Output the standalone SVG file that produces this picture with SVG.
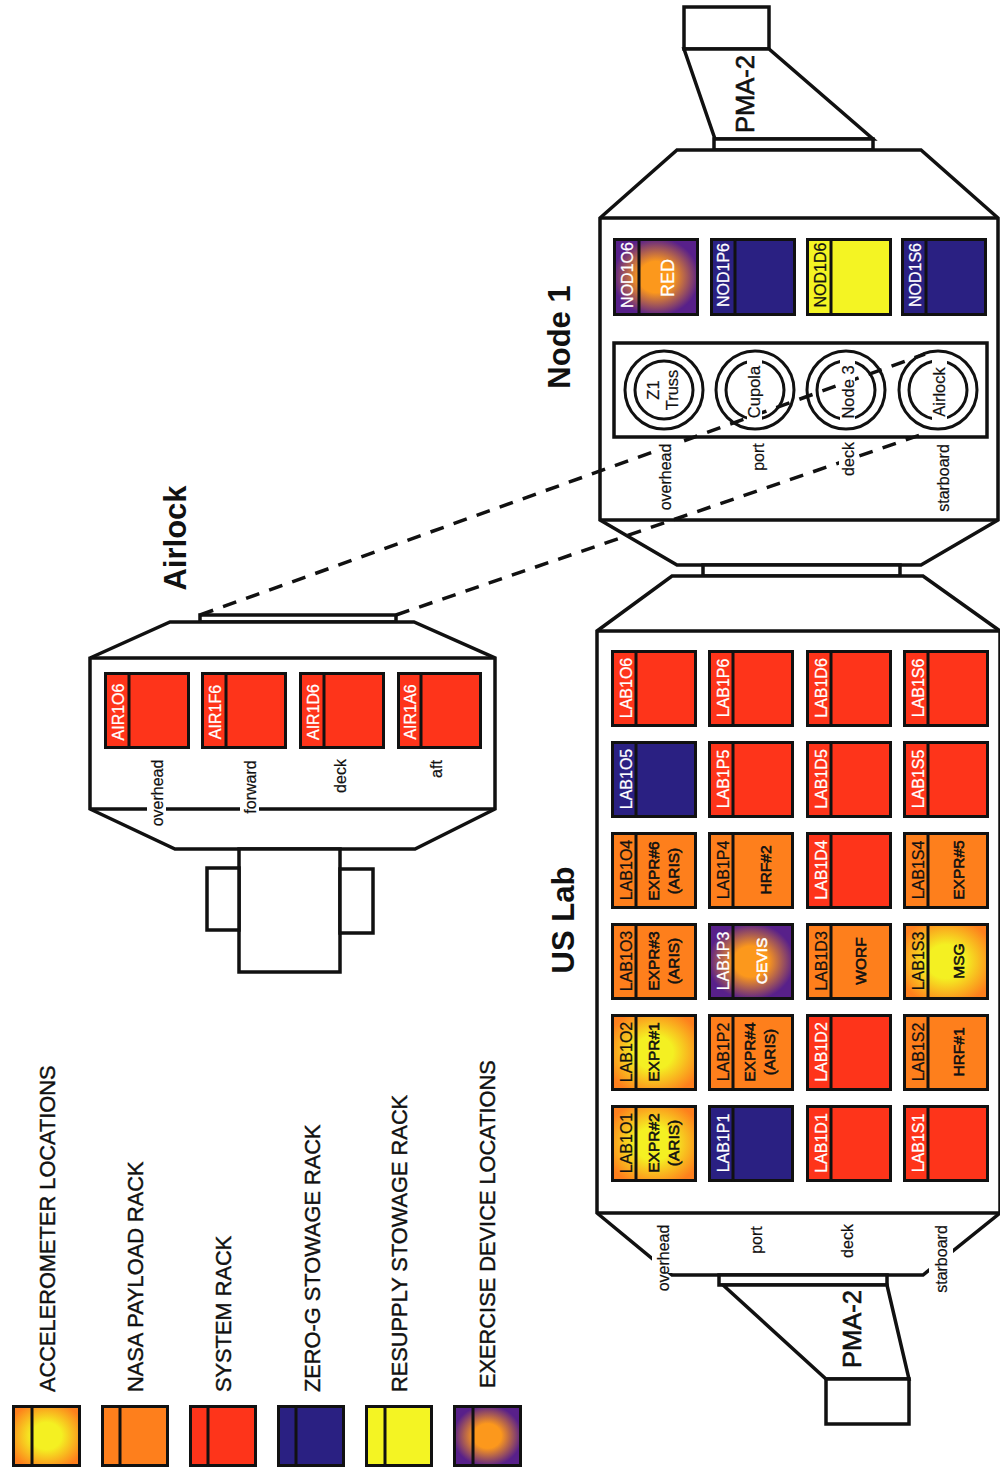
<svg xmlns="http://www.w3.org/2000/svg" width="1000" height="1468" viewBox="0 0 1000 1468">
<style>
text{font-family:"Liberation Sans",Arial,sans-serif;text-anchor:middle;dominant-baseline:central;fill:#111}
.o{fill:#fff;stroke:#111;stroke-width:3.5}
.l{fill:none;stroke:#111;stroke-width:3.5}
.d{fill:none;stroke:#111;stroke-width:3.5;stroke-dasharray:14 10.5}
.w{fill:#fff;stroke:none}
.c{fill:none;stroke:#111;stroke-width:3}
.s{font-size:16px;stroke:#111;stroke-width:.25}
.s.n{stroke:#fff}
.n{fill:#fff}
.b{font-size:15.5px;stroke:#111;stroke-width:.6}
.b.n{stroke:#fff}
.p{font-size:16px;stroke:#111;stroke-width:.2}
.u{font-size:16.5px;stroke:#111;stroke-width:.2}
.h{font-size:31px;font-weight:bold}
.m{font-size:25.5px;stroke:#111;stroke-width:.6}
.g{font-size:21.8px;text-anchor:start;stroke:#111;stroke-width:.4}
rect.r{stroke:#111;stroke-width:3}
.v{stroke:#111;stroke-width:3;fill:none}
.red{fill:#fe341a}.org{fill:#fe7f1c}.blu{fill:#2a2082}.yel{fill:#f4f423}.acc{fill:url(#acc)}.exd{fill:url(#exd)}
</style>
<defs>
<radialGradient id="acc" r="0.6"><stop offset="0.38" stop-color="#f4f022"/><stop offset="1" stop-color="#fe7f1c"/></radialGradient>
<radialGradient id="exd" r="0.52"><stop offset="0.4" stop-color="#fc981c"/><stop offset="1" stop-color="#58208a"/></radialGradient>
</defs>
<rect width="1000" height="1468" fill="#fff"/>
<g id="node1-shell">
<rect class="o" x="684" y="7" width="85" height="42"/>
<path class="o" d="M684 49L715 139H873L769 49Z"/>
<rect class="o" x="714" y="139" width="159" height="11"/>
<path class="o" d="M600 218L677 150H921L998 218V520L921 565H677L600 520Z"/>
<path class="l" d="M600 218H998M600 520H998"/>
<rect class="o" x="703" y="565" width="197" height="11"/>
<text class="m" transform="translate(745 94) rotate(-90)">PMA-2</text>
<text class="h" transform="translate(559 337) rotate(-90)">Node 1</text>
<rect class="o" x="614" y="343" width="373" height="94"/>
</g>
<g id="lab-shell">
<path class="o" d="M597 631L672 576H923L1000 631V1213L923 1275H672L597 1213Z"/>
<path class="l" d="M597 631H1000M597 1213H1000"/>
<rect class="o" x="719" y="1275" width="168" height="10"/>
<path class="o" d="M723 1285L826 1379H909L887 1285Z"/>
<rect class="o" x="826" y="1379" width="83" height="45"/>
<text class="m" transform="translate(852 1329) rotate(-90)">PMA-2</text>
<text class="h" transform="translate(563 920) rotate(-90)">US Lab</text>
<rect class="w" x="652" y="1240" width="23" height="33"/>
<rect class="w" x="929" y="1240" width="24" height="33"/>
<text class="p" transform="translate(663 1258) rotate(-90)">overhead</text>
<text class="p" transform="translate(756 1240) rotate(-90)">port</text>
<text class="p" transform="translate(847 1241) rotate(-90)">deck</text>
<text class="p" transform="translate(941 1259) rotate(-90)">starboard</text>
</g>
<g id="airlock-shell">
<path class="o" d="M200 622V615H396V622Z"/>
<path class="o" d="M90 658L170 622H414L495 658V809L415 849H175L90 809Z"/>
<path class="l" d="M90 658H495M90 809H495"/>
<rect class="o" x="239" y="849" width="101" height="123"/>
<rect class="o" x="207" y="868" width="32" height="62"/>
<rect class="o" x="340" y="869" width="33" height="64"/>
<text class="h" transform="translate(175 538) rotate(-90)">Airlock</text>
<rect class="w" x="147" y="800" width="19" height="18"/>
<rect class="w" x="240" y="800" width="19" height="18"/>
<text class="p" transform="translate(157 793) rotate(-90)">overhead</text>
<text class="p" transform="translate(250 787) rotate(-90)">forward</text>
<text class="p" transform="translate(340 776) rotate(-90)">deck</text>
<text class="p" transform="translate(436 769) rotate(-90)">aft</text>
</g>
<g id="connectors">
<path class="d" d="M200 615L925 354"/>
<path class="d" d="M396 615L923 434"/>
</g>
<g id="node1-labels">
<rect class="w" x="656" y="442" width="19" height="70"/>
<rect class="w" x="839" y="442" width="19" height="36"/>
<text class="p" transform="translate(665 477) rotate(-90)">overhead</text>
<text class="p" transform="translate(758 457) rotate(-90)">port</text>
<text class="p" transform="translate(848 459) rotate(-90)">deck</text>
<text class="p" transform="translate(943 478) rotate(-90)">starboard</text>
</g>
<g id="ports">
<g id="port-z1"><circle class="c" cx="664" cy="390" r="39"/><circle class="c" cx="664" cy="390" r="29"/><text class="u" transform="translate(653 390) rotate(-90)">Z1</text><text class="u" transform="translate(672 390) rotate(-90)">Truss</text></g>
<g id="port-cupola"><circle class="c" cx="755" cy="390" r="39"/><circle class="c" cx="755" cy="390" r="29"/><rect class="w" x="747" y="358" width="15" height="66"/><text class="u" transform="translate(754 392) rotate(-90)">Cupola</text></g>
<g id="port-node3"><circle class="c" cx="846" cy="390" r="39"/><circle class="c" cx="846" cy="390" r="29"/><rect class="w" x="840" y="358" width="15" height="66"/><text class="u" transform="translate(848 392) rotate(-90)">Node 3</text></g>
<g id="port-airlock"><circle class="c" cx="938" cy="390" r="39"/><circle class="c" cx="938" cy="390" r="29"/><rect class="w" x="932" y="358" width="15" height="66"/><text class="u" transform="translate(939 392) rotate(-90)">Airlock</text></g>
</g>
<g id="NOD1O6"><rect class="r exd" x="614.5" y="239.5" width="83" height="75"/><path class="v" d="M639 238V316"/><text class="s n" transform="translate(627 275) rotate(-90)">NOD1O6</text><text class="s n" style="font-size:18px" transform="translate(668 278) rotate(-90)">RED</text></g>
<g id="NOD1P6"><rect class="r blu" x="711.5" y="239.5" width="83" height="75"/><path class="v" d="M735 238V316"/><text class="s n" transform="translate(723 275) rotate(-90)">NOD1P6</text></g>
<g id="NOD1D6"><rect class="r yel" x="807.5" y="239.5" width="83" height="75"/><path class="v" d="M831 238V316"/><text class="s" transform="translate(820 275) rotate(-90)">NOD1D6</text></g>
<g id="NOD1S6"><rect class="r blu" x="902.5" y="239.5" width="83" height="75"/><path class="v" d="M926 238V316"/><text class="s n" transform="translate(915 275) rotate(-90)">NOD1S6</text></g>

<g id="LAB1O6"><rect class="r red" x="612.5" y="651.5" width="83" height="74"/><path class="v" d="M636 650V727"/><text class="s n" transform="translate(626 688) rotate(-90)">LAB1O6</text></g>
<g id="LAB1P6"><rect class="r red" x="709.5" y="651.5" width="83" height="74"/><path class="v" d="M733 650V727"/><text class="s n" transform="translate(723 688) rotate(-90)">LAB1P6</text></g>
<g id="LAB1D6"><rect class="r red" x="807.5" y="651.5" width="83" height="74"/><path class="v" d="M831 650V727"/><text class="s n" transform="translate(821 688) rotate(-90)">LAB1D6</text></g>
<g id="LAB1S6"><rect class="r red" x="904.5" y="651.5" width="83" height="74"/><path class="v" d="M928 650V727"/><text class="s n" transform="translate(918 688) rotate(-90)">LAB1S6</text></g>

<g id="LAB1O5"><rect class="r blu" x="612.5" y="742.5" width="83" height="74"/><path class="v" d="M636 741V818"/><text class="s n" transform="translate(626 779) rotate(-90)">LAB1O5</text></g>
<g id="LAB1P5"><rect class="r red" x="709.5" y="742.5" width="83" height="74"/><path class="v" d="M733 741V818"/><text class="s n" transform="translate(723 779) rotate(-90)">LAB1P5</text></g>
<g id="LAB1D5"><rect class="r red" x="807.5" y="742.5" width="83" height="74"/><path class="v" d="M831 741V818"/><text class="s n" transform="translate(821 779) rotate(-90)">LAB1D5</text></g>
<g id="LAB1S5"><rect class="r red" x="904.5" y="742.5" width="83" height="74"/><path class="v" d="M928 741V818"/><text class="s n" transform="translate(918 779) rotate(-90)">LAB1S5</text></g>

<g id="LAB1O4"><rect class="r org" x="612.5" y="833.5" width="83" height="74"/><path class="v" d="M636 832V909"/><text class="s" transform="translate(626 870) rotate(-90)">LAB1O4</text><text class="b" transform="translate(653 871) rotate(-90)">EXPR#6</text><text class="b" transform="translate(673 871) rotate(-90)">(ARIS)</text></g>
<g id="LAB1P4"><rect class="r org" x="709.5" y="833.5" width="83" height="74"/><path class="v" d="M733 832V909"/><text class="s" transform="translate(723 870) rotate(-90)">LAB1P4</text><text class="b" transform="translate(765 870) rotate(-90)">HRF#2</text></g>
<g id="LAB1D4"><rect class="r red" x="807.5" y="833.5" width="83" height="74"/><path class="v" d="M831 832V909"/><text class="s n" transform="translate(821 870) rotate(-90)">LAB1D4</text></g>
<g id="LAB1S4"><rect class="r org" x="904.5" y="833.5" width="83" height="74"/><path class="v" d="M928 832V909"/><text class="s" transform="translate(918 870) rotate(-90)">LAB1S4</text><text class="b" transform="translate(958 870) rotate(-90)">EXPR#5</text></g>

<g id="LAB1O3"><rect class="r org" x="612.5" y="924.5" width="83" height="74"/><path class="v" d="M636 923V1000"/><text class="s" transform="translate(626 961) rotate(-90)">LAB1O3</text><text class="b" transform="translate(653 961) rotate(-90)">EXPR#3</text><text class="b" transform="translate(673 961) rotate(-90)">(ARIS)</text></g>
<g id="LAB1P3"><rect class="r exd" x="709.5" y="924.5" width="83" height="74"/><path class="v" d="M733 923V1000"/><text class="s n" transform="translate(723 961) rotate(-90)">LAB1P3</text><text class="b n" transform="translate(761 961) rotate(-90)">CEVIS</text></g>
<g id="LAB1D3"><rect class="r org" x="807.5" y="924.5" width="83" height="74"/><path class="v" d="M831 923V1000"/><text class="s" transform="translate(821 961) rotate(-90)">LAB1D3</text><text class="b" transform="translate(860 961) rotate(-90)">WORF</text></g>
<g id="LAB1S3"><rect class="r acc" x="904.5" y="924.5" width="83" height="74"/><path class="v" d="M928 923V1000"/><text class="s" transform="translate(918 961) rotate(-90)">LAB1S3</text><text class="b" transform="translate(958 961) rotate(-90)">MSG</text></g>

<g id="LAB1O2"><rect class="r acc" x="612.5" y="1015.5" width="83" height="74"/><path class="v" d="M636 1014V1091"/><text class="s" transform="translate(626 1052) rotate(-90)">LAB1O2</text><text class="b" transform="translate(653 1052) rotate(-90)">EXPR#1</text></g>
<g id="LAB1P2"><rect class="r org" x="709.5" y="1015.5" width="83" height="74"/><path class="v" d="M733 1014V1091"/><text class="s" transform="translate(723 1052) rotate(-90)">LAB1P2</text><text class="b" transform="translate(749 1052) rotate(-90)">EXPR#4</text><text class="b" transform="translate(769 1052) rotate(-90)">(ARIS)</text></g>
<g id="LAB1D2"><rect class="r red" x="807.5" y="1015.5" width="83" height="74"/><path class="v" d="M831 1014V1091"/><text class="s n" transform="translate(821 1052) rotate(-90)">LAB1D2</text></g>
<g id="LAB1S2"><rect class="r org" x="904.5" y="1015.5" width="83" height="74"/><path class="v" d="M928 1014V1091"/><text class="s" transform="translate(918 1052) rotate(-90)">LAB1S2</text><text class="b" transform="translate(958 1052) rotate(-90)">HRF#1</text></g>

<g id="LAB1O1"><rect class="r acc" x="612.5" y="1106.5" width="83" height="74"/><path class="v" d="M636 1105V1182"/><text class="s" transform="translate(626 1143) rotate(-90)">LAB1O1</text><text class="b" transform="translate(653 1143) rotate(-90)">EXPR#2</text><text class="b" transform="translate(673 1143) rotate(-90)">(ARIS)</text></g>
<g id="LAB1P1"><rect class="r blu" x="709.5" y="1106.5" width="83" height="74"/><path class="v" d="M733 1105V1182"/><text class="s n" transform="translate(723 1143) rotate(-90)">LAB1P1</text></g>
<g id="LAB1D1"><rect class="r red" x="807.5" y="1106.5" width="83" height="74"/><path class="v" d="M831 1105V1182"/><text class="s n" transform="translate(821 1143) rotate(-90)">LAB1D1</text></g>
<g id="LAB1S1"><rect class="r red" x="904.5" y="1106.5" width="83" height="74"/><path class="v" d="M928 1105V1182"/><text class="s n" transform="translate(918 1143) rotate(-90)">LAB1S1</text></g>

<g id="AIR1O6"><rect class="r red" x="105.5" y="673.5" width="83" height="74"/><path class="v" d="M129 672V749"/><text class="s n" transform="translate(118 712) rotate(-90)">AIR1O6</text></g>
<g id="AIR1F6"><rect class="r red" x="202.5" y="673.5" width="83" height="74"/><path class="v" d="M226 672V749"/><text class="s n" transform="translate(215 712) rotate(-90)">AIR1F6</text></g>
<g id="AIR1D6"><rect class="r red" x="300.5" y="673.5" width="83" height="74"/><path class="v" d="M324 672V749"/><text class="s n" transform="translate(313 712) rotate(-90)">AIR1D6</text></g>
<g id="AIR1A6"><rect class="r red" x="398.5" y="673.5" width="82" height="74"/><path class="v" d="M421 672V749"/><text class="s n" transform="translate(410 712) rotate(-90)">AIR1A6</text></g>

<g id="legend-acc"><rect class="r acc" x="13.5" y="1406.5" width="66" height="59"/><path class="v" d="M32 1405V1467"/><text class="g" transform="translate(47 1392) rotate(-90)">ACCELEROMETER LOCATIONS</text></g>
<g id="legend-payload"><rect class="r org" x="102.5" y="1406.5" width="65" height="59"/><path class="v" d="M120 1405V1467"/><text class="g" transform="translate(135 1392) rotate(-90)">NASA PAYLOAD RACK</text></g>
<g id="legend-system"><rect class="r red" x="190.5" y="1406.5" width="65" height="59"/><path class="v" d="M208 1405V1467"/><text class="g" transform="translate(223 1392) rotate(-90)">SYSTEM RACK</text></g>
<g id="legend-zerog"><rect class="r blu" x="278.5" y="1406.5" width="65" height="59"/><path class="v" d="M296 1405V1467"/><text class="g" transform="translate(312 1392) rotate(-90)">ZERO-G STOWAGE RACK</text></g>
<g id="legend-resupply"><rect class="r yel" x="366.5" y="1406.5" width="65" height="59"/><path class="v" d="M385 1405V1467"/><text class="g" transform="translate(399 1392) rotate(-90)">RESUPPLY STOWAGE RACK</text></g>
<g id="legend-exercise"><rect class="r exd" x="454.5" y="1406.5" width="66" height="59"/><path class="v" d="M473 1405V1467"/><text class="g" transform="translate(487 1388) rotate(-90)">EXERCISE DEVICE LOCATIONS</text></g>
</svg>
